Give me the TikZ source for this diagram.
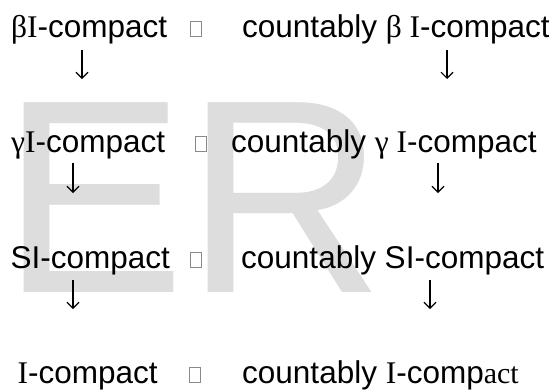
\documentclass[tikz,border=0pt]{standalone}
\usepackage{fontspec}
\setmainfont{Liberation Sans}
\newfontfamily\arialf{Liberation Sans}
\newfontfamily\timesf{Liberation Serif}
\usetikzlibrary{arrows.meta}
\definecolor{wm}{HTML}{DDDDDD}
\definecolor{boxgray}{HTML}{8A8A8A}
\tikzset{
  lbl/.style={anchor=base west, inner sep=0pt, font=\arialf\fontsize{31.5}{32}\selectfont},
  gapbox/.style={draw=boxgray, line width=0.6pt, minimum width=11.5pt, minimum height=15pt, inner sep=0pt},
  implies/.style={line width=1.1pt, -{Straight Barb[length=6pt,width=12pt,line width=1.1pt]}},
}
\begin{document}
\begin{tikzpicture}[x=1pt,y=-1pt]
\useasboundingbox (0,0) rectangle (549,389);
% watermark
\node[anchor=base west, inner sep=0pt, text=wm, font=\arialf\fontsize{276}{276}\selectfont] (wmk) at (1,292) {ER};
% row 1
\node[lbl] (a1) at (11,37) {{\timesf βI}-compact};
\node[gapbox] (g1) at (196,29) {};
\node[lbl] (b1) at (242,37) {countably {\timesf β I}-compact};
% row 2
\node[lbl] (a2) at (11,152) {{\timesf γI}-compact};
\node[gapbox] (g2) at (201,144) {};
\node[lbl] (b2) at (231,152) {countably {\timesf γ I}-compact};
% row 3
\node[lbl] (a3) at (10.5,268) {SI-compact};
\node[gapbox] (g3) at (196,260) {};
\node[lbl] (b3) at (241,268) {countably SI-compact};
% row 4
\node[lbl] (a4) at (17.5,383) {{\timesf I}-compact};
\node[gapbox] (g4) at (195,375) {};
\node[lbl] (b4) at (242,383) {countably {\timesf I}-comp{\timesf\fontsize{30}{30}\selectfont act}};
% arrow end points
\coordinate (p1s) at (82,50);  \coordinate (p1e) at (82,79);
\coordinate (q1s) at (447,50); \coordinate (q1e) at (447,79);
\coordinate (p2s) at (73,163); \coordinate (p2e) at (73,193);
\coordinate (q2s) at (438,163);\coordinate (q2e) at (438,193);
\coordinate (p3s) at (73,280); \coordinate (p3e) at (73,309);
\coordinate (q3s) at (430,280);\coordinate (q3e) at (430,309);
\draw[implies] (p1s) -- (p1e);
\draw[implies] (q1s) -- (q1e);
\draw[implies] (p2s) -- (p2e);
\draw[implies] (q2s) -- (q2e);
\draw[implies] (p3s) -- (p3e);
\draw[implies] (q3s) -- (q3e);
\end{tikzpicture}
\end{document}
